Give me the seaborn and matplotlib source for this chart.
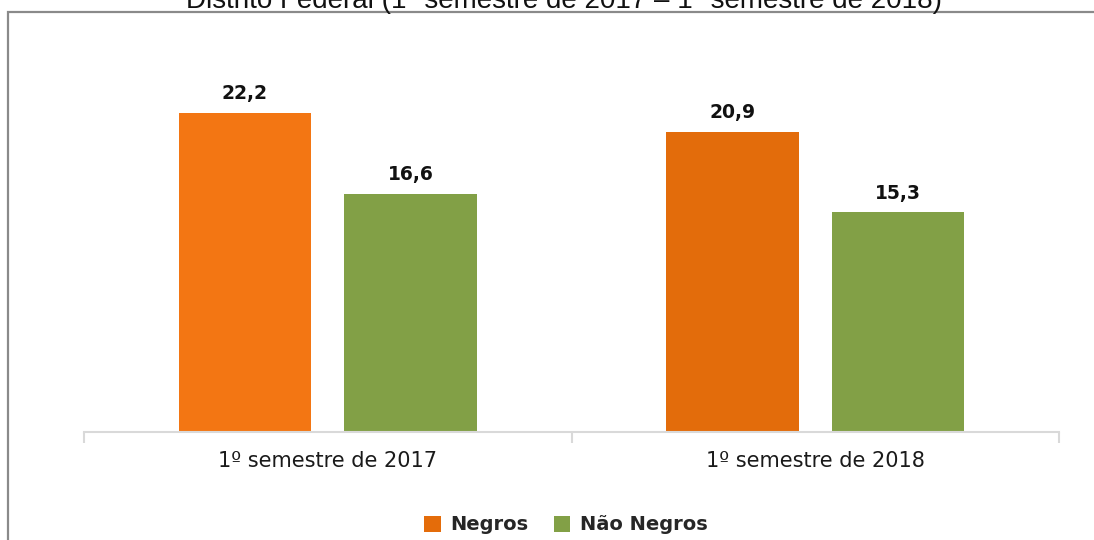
import matplotlib
matplotlib.use("Agg")
import matplotlib.pyplot as plt
import seaborn as sns
import pandas as pd
from matplotlib.patches import Rectangle, Patch

categories = ["1º semestre de 2017", "1º semestre de 2018"]
series = ["Negros", "Não Negros"]
negros = [22.2, 20.9]
nao_negros = [16.6, 15.3]
value_labels_negros = ["22,2", "20,9"]
value_labels_nao = ["16,6", "15,3"]
title = "Distrito Federal (1º semestre de 2017 – 1º semestre de 2018)"

df = pd.DataFrame({
    "periodo": categories * 2,
    "grupo": [series[0]] * 2 + [series[1]] * 2,
    "valor": negros + nao_negros,
})

sns.set_theme(style="white")
plt.rcParams["font.family"] = ["DejaVu Sans"]

fig = plt.figure(figsize=(10.94, 5.40), dpi=100)
fig.patch.set_facecolor("white")
ax = fig.add_axes([84 / 1094, (540 - 432) / 540, 975 / 1094, 359 / 540])

palette = {"Negros": "#E46C0A", "Não Negros": "#82A046"}
sns.barplot(data=df, x="periodo", y="valor", hue="grupo", palette=palette,
            width=0.68, gap=0.2, ax=ax, legend=False, saturation=1)

# first Negros bar is a brighter orange in the reference
bar_colors = ["#F37613", "#E36C0B", "#82A046", "#82A046"]
for p, c in zip(ax.patches, bar_colors):
    p.set_facecolor(c)
    p.set_edgecolor("none")

labels = value_labels_negros + value_labels_nao
for p, lab in zip(ax.patches, labels):
    ax.annotate(lab, (p.get_x() + p.get_width() / 2, p.get_height()),
                xytext=(0, 7), textcoords="offset points",
                ha="center", va="bottom", fontsize=13.5, fontweight="bold",
                color="#111111")

ax.set_ylim(0, 25)
ax.set_xlim(-0.5, 1.5)
ax.set_xlabel("")
ax.set_ylabel("")
ax.set_yticks([])
for s in ["top", "right", "left"]:
    ax.spines[s].set_visible(False)
ax.spines["bottom"].set_color("#D9D9D9")
ax.spines["bottom"].set_linewidth(1.5)
ax.set_xticks([0, 1])
ax.set_xticklabels(categories, fontsize=15, color="#1a1a1a")
ax.tick_params(axis="x", which="major", length=0, pad=14)
ax.set_xticks([-0.5, 0.5, 1.5], minor=True)
ax.tick_params(axis="x", which="minor", length=8, width=1.5, color="#D9D9D9",
               bottom=True, direction="out")

# legend
handles = [Patch(facecolor=palette[s], edgecolor="none") for s in series]
leg = fig.legend(handles, series, loc="center", bbox_to_anchor=(566 / 1094, 1 - 525 / 540),
                 ncol=2, frameon=False, handlelength=0.85, handleheight=0.85,
                 columnspacing=1.3, handletextpad=0.5,
                 prop={"weight": "bold", "size": 14})

# figure border (chart area frame)
border = Rectangle((8 / 1094, -0.1), 1.2, 1 - 12 / 540 + 0.1, transform=fig.transFigure,
                   fill=False, edgecolor="#8A8A8A", linewidth=1.6, zorder=0)
fig.patches.append(border)

fig.text(564 / 1094, 1 - 8 / 540, title, ha="center", va="baseline",
         fontsize=20, family=["Liberation Sans", "DejaVu Sans"], color="#111111")

fig.savefig("out.png", dpi=100)
